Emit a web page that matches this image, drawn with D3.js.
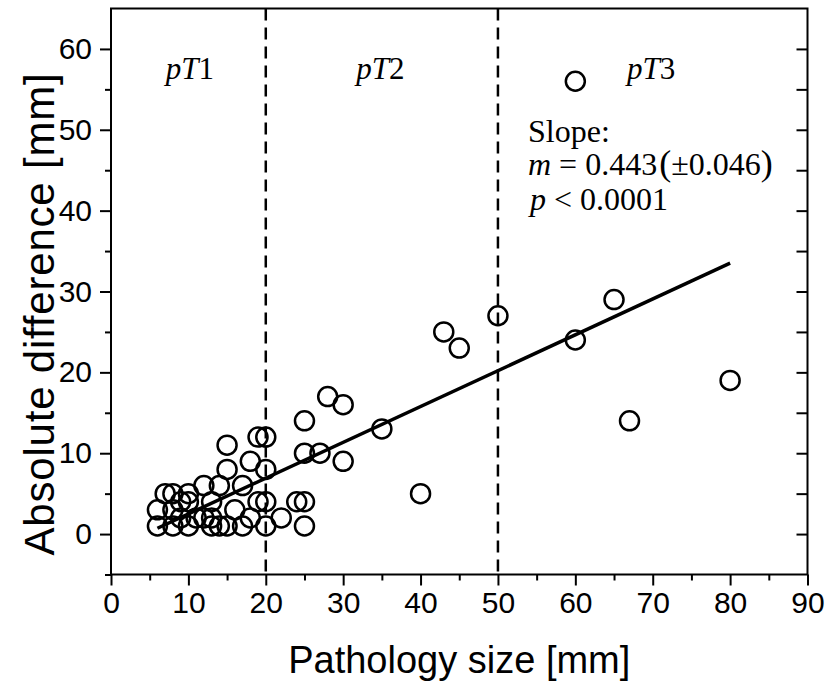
<!DOCTYPE html>
<html>
<head>
<meta charset="utf-8">
<script src="https://cdn.jsdelivr.net/npm/d3@7"></script>
<style>
  body { margin: 0; background: #fff; }
  text { fill: #000; }
</style>
</head>
<body>
<div class="chart"></div>
<script>
// data (pathology size vs absolute difference, mm)
var sizeMm = [6, 6, 7, 8, 8, 8, 9, 9, 10, 10, 10, 11, 12, 12, 13, 13, 13, 14, 14, 15,
              15, 15, 16, 17, 17, 18, 18, 19, 19, 20, 20, 20, 20, 22, 24, 25, 25, 25, 25, 27,
              28, 30, 30, 35, 40, 43, 45, 50, 60, 60, 65, 67, 80]
var diffMm = [1, 3, 5, 5, 1, 3, 4, 2, 5, 1, 4, 2, 6, 2, 4, 2, 1, 6, 1, 1,
              11, 8, 3, 6, 1, 9, 2, 12, 4, 12, 8, 4, 1, 2, 4, 4, 1, 10, 14, 10,
              17, 16, 9, 13, 5, 25, 23, 27, 56, 24, 29, 14, 19]

// linear fit shown in the figure
var fitSlope = 0.443
var fitIntercept = -1.94
var fitX = [6, 80]

var stageBounds = [20, 50]
var stageNames = ["1", "2", "3"]

var xTicks = [0, 10, 20, 30, 40, 50, 60, 70, 80, 90]
var yTicks = [0, 10, 20, 30, 40, 50, 60]

// set the dimensions of the graph
var width = 830,
    height = 688

var x = d3.scaleLinear().domain([0, 90]).range([111, 807.5])
var y = d3.scaleLinear().domain([-5, 65]).range([574.5, 8.5])

var svg = d3.select(".chart")
  .append("svg")
    .attr("width", width)
    .attr("height", height)

var points = sizeMm.map(function(d, i) { return {x: d, y: diffMm[i]} })

// frame
svg.append("rect")
  .attr("x", x(0)).attr("y", y(65))
  .attr("width", x(90) - x(0)).attr("height", y(-5) - y(65))
  .attr("fill", "none").attr("stroke", "#000").attr("stroke-width", 2)

// bottom axis (outward ticks)
var xAxis = svg.append("g")
  .attr("transform", "translate(0," + y(-5) + ")")
  .call(d3.axisBottom(x).tickValues(xTicks).tickSize(11).tickPadding(6).tickFormat(d3.format("d")))
xAxis.select(".domain").remove()
xAxis.selectAll("line").attr("stroke-width", 2)
xAxis.selectAll("text").style("font-family", "Liberation Sans, Arial, sans-serif").style("font-size", "30px")

svg.append("g")
  .attr("transform", "translate(0," + y(-5) + ")")
  .call(d3.axisBottom(x).tickValues(d3.range(5, 90, 10)).tickSize(6).tickFormat(""))
  .call(function(g) { g.select(".domain").remove(); g.selectAll("line").attr("stroke-width", 2) })

// left axis (outward ticks)
var yAxis = svg.append("g")
  .attr("transform", "translate(" + x(0) + ",0)")
  .call(d3.axisLeft(y).tickValues(yTicks).tickSize(11).tickPadding(8).tickFormat(d3.format("d")))
yAxis.select(".domain").remove()
yAxis.selectAll("line").attr("stroke-width", 2)
yAxis.selectAll("text").style("font-family", "Liberation Sans, Arial, sans-serif").style("font-size", "30px")

svg.append("g")
  .attr("transform", "translate(" + x(0) + ",0)")
  .call(d3.axisLeft(y).tickValues(d3.range(-5, 65, 10)).tickSize(6).tickFormat(""))
  .call(function(g) { g.select(".domain").remove(); g.selectAll("line").attr("stroke-width", 2) })

// right axis, ticks pointing in
svg.append("g")
  .attr("transform", "translate(" + x(90) + ",0)")
  .call(d3.axisLeft(y).tickValues(d3.range(0, 65, 5)).tickSize(11).tickFormat(""))
  .call(function(g) { g.select(".domain").remove(); g.selectAll("line").attr("stroke-width", 2) })

// stage boundaries
svg.selectAll(".bound")
  .data(stageBounds)
  .enter()
  .append("line")
    .attr("x1", function(d) { return x(d) })
    .attr("x2", function(d) { return x(d) })
    .attr("y1", y(65))
    .attr("y2", y(-5))
    .attr("stroke", "#000")
    .attr("stroke-width", 2.5)
    .attr("stroke-dasharray", "12,7")

var serif = "Liberation Serif, Times New Roman, serif"

// stage labels pT1, pT2, pT3
var labelAt = [10.2, 34.8, 69.8]
stageNames.forEach(function(n, i) {
  var t = svg.append("text")
    .attr("x", x(labelAt[i]))
    .attr("y", 79)
    .attr("text-anchor", "middle")
    .style("font-family", serif)
    .style("font-size", "31px")
  t.append("tspan").style("font-style", "italic").text("pT")
  t.append("tspan").text(n)
})

// fit line
svg.append("line")
  .attr("x1", x(fitX[0])).attr("y1", y(fitIntercept + fitSlope * fitX[0]))
  .attr("x2", x(fitX[1])).attr("y2", y(fitIntercept + fitSlope * fitX[1]))
  .attr("stroke", "#000")
  .attr("stroke-width", 3.5)

// points
svg.selectAll("circle.pt")
  .data(points)
  .enter()
  .append("circle")
    .attr("class", "pt")
    .attr("cx", function(d) { return x(d.x) })
    .attr("cy", function(d) { return y(d.y) })
    .attr("r", 9.5)
    .attr("fill", "none")
    .attr("stroke", "#000")
    .attr("stroke-width", 2.5)

// slope annotation
svg.append("text")
  .attr("x", 528).attr("y", 142)
  .style("font-family", serif).style("font-size", "32px")
  .text("Slope:")

var mLine = svg.append("text")
  .attr("x", 528).attr("y", 175)
  .style("font-family", serif).style("font-size", "32px")
mLine.append("tspan").style("font-style", "italic").text("m")
mLine.append("tspan").text(" = " + fitSlope.toFixed(3))
mLine.append("tspan").style("font-size", "36px").attr("dx", 2).text("(")
mLine.append("tspan").text("±0.046")
mLine.append("tspan").style("font-size", "36px").text(")")

var pLine = svg.append("text")
  .attr("x", 530).attr("y", 210)
  .style("font-family", serif).style("font-size", "32px")
pLine.append("tspan").style("font-style", "italic").text("p")
pLine.append("tspan").text(" < 0.0001")

// axis titles
svg.append("text")
  .attr("x", (x(0) + x(90)) / 2)
  .attr("y", 673)
  .attr("text-anchor", "middle")
  .style("font-family", "Liberation Sans, Arial, sans-serif")
  .style("font-size", "38px")
  .text("Pathology size [mm]")

svg.append("text")
  .attr("transform", "translate(54,314) rotate(-90)")
  .attr("text-anchor", "middle")
  .style("font-family", "Liberation Sans, Arial, sans-serif")
  .style("font-size", "42px")
  .style("letter-spacing", "0.8px")
  .text("Absolute difference [mm]")
</script>
</body>
</html>
